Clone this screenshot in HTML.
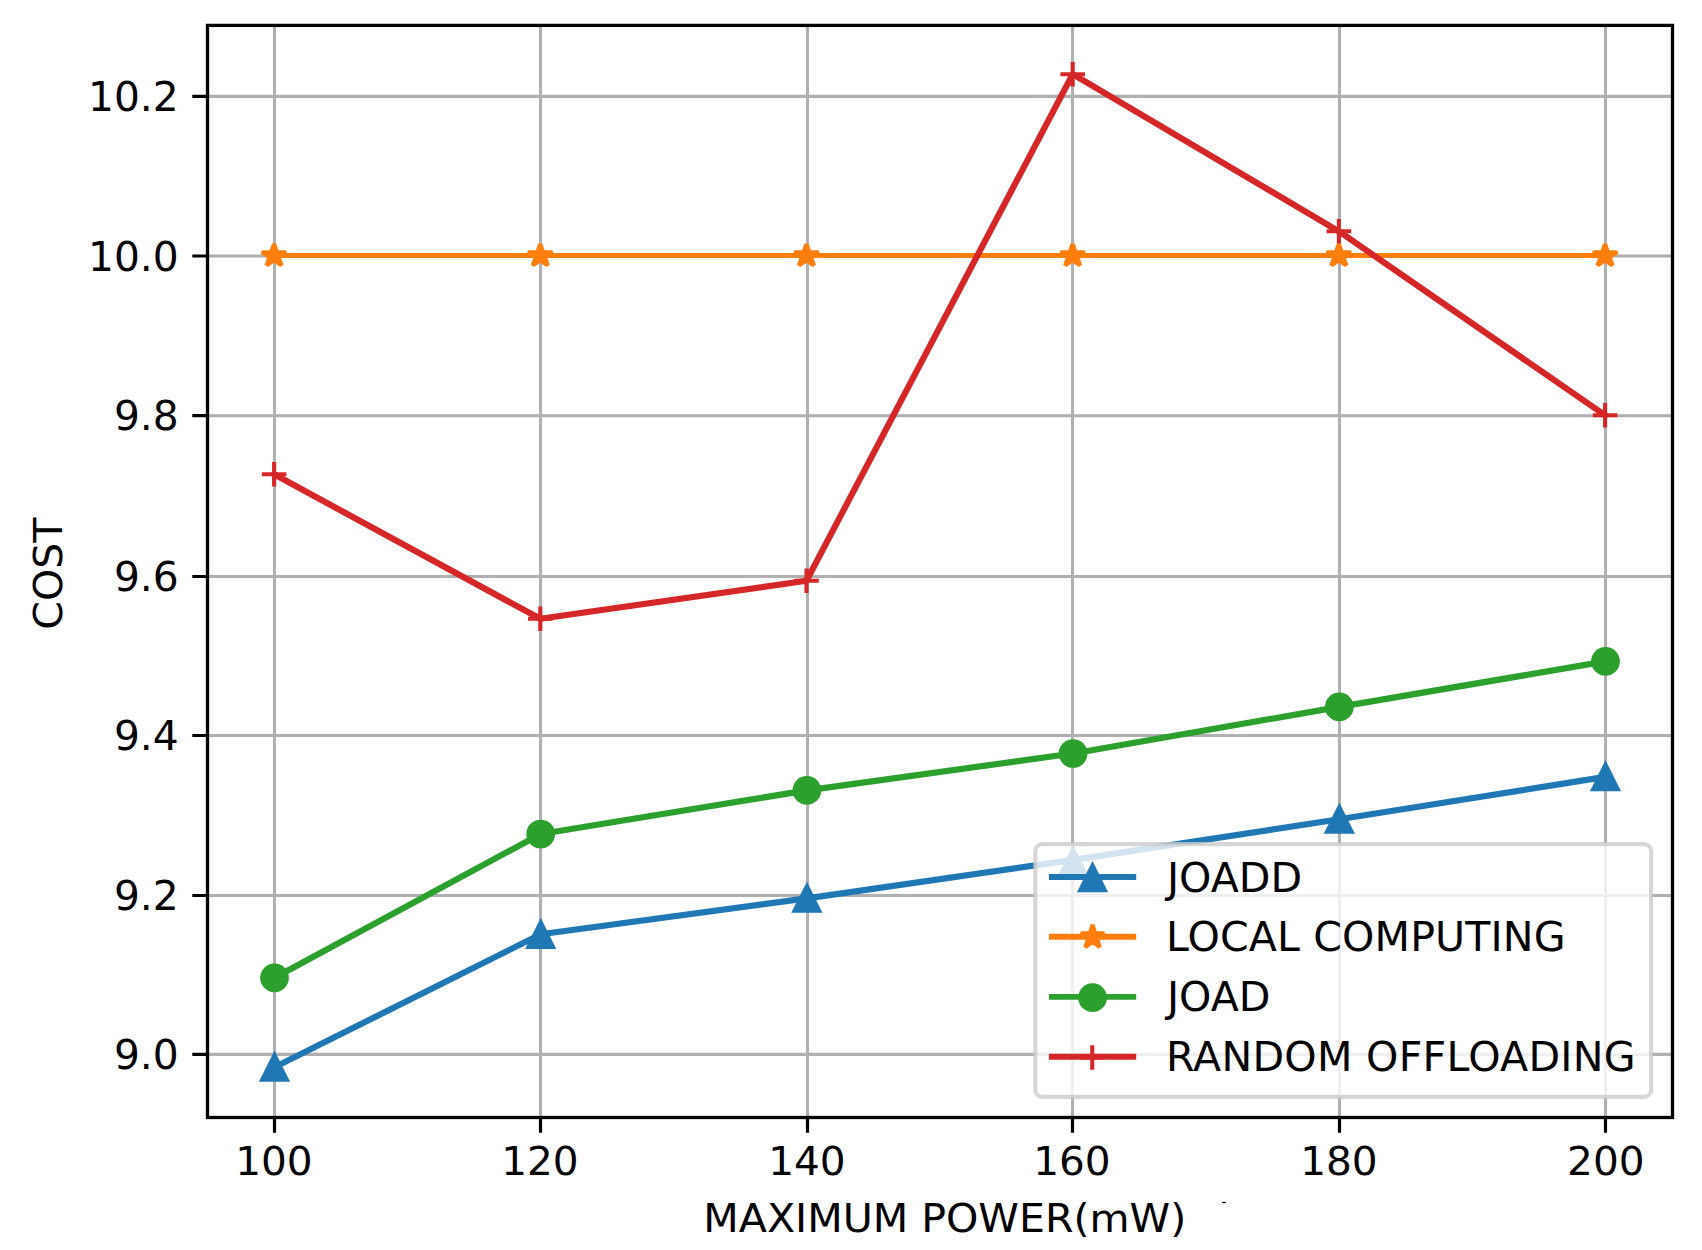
<!DOCTYPE html>
<html lang="en"><head><meta charset="utf-8"><title>COST vs MAXIMUM POWER(mW)</title>
<style>html,body{margin:0;padding:0;background:#fff}body{width:1702px;height:1250px;overflow:hidden}svg{display:block}</style>
</head><body>
<svg width="1702" height="1250" viewBox="0 0 1702 1250" font-family="'DejaVu Sans','Liberation Sans',sans-serif" font-size="41.1px" fill="#000">
<rect width="1702" height="1250" fill="#fff"/>
<path d="M274.50,25.4V1117.5M540.50,25.4V1117.5M807.50,25.4V1117.5M1072.50,25.4V1117.5M1339.50,25.4V1117.5M1605.50,25.4V1117.5M207.5,96.40H1672.5M207.5,256.00H1672.5M207.5,415.70H1672.5M207.5,576.50H1672.5M207.5,735.50H1672.5M207.5,895.50H1672.5M207.5,1054.40H1672.5" stroke="#b0b0b0" stroke-width="3.1" fill="none"/>
<g>
<polyline points="274.50,1067.20 540.70,934.30 806.90,898.40 1073.10,859.90 1339.30,819.30 1605.50,776.90" fill="none" stroke="#1f77b4" stroke-width="6.2" stroke-linejoin="round" stroke-linecap="square"/><polygon points="274.50,1055.20 262.20,1079.80 286.80,1079.80" fill="#1f77b4" stroke="#1f77b4" stroke-width="4.1" stroke-linejoin="miter"/><polygon points="540.70,922.40 528.40,947.00 553.00,947.00" fill="#1f77b4" stroke="#1f77b4" stroke-width="4.1" stroke-linejoin="miter"/><polygon points="806.90,886.15 794.60,910.75 819.20,910.75" fill="#1f77b4" stroke="#1f77b4" stroke-width="4.1" stroke-linejoin="miter"/><polygon points="1073.10,849.70 1060.80,874.30 1085.40,874.30" fill="#1f77b4" stroke="#1f77b4" stroke-width="4.1" stroke-linejoin="miter"/><polygon points="1339.30,807.20 1327.00,831.80 1351.60,831.80" fill="#1f77b4" stroke="#1f77b4" stroke-width="4.1" stroke-linejoin="miter"/><polygon points="1605.50,764.60 1593.20,789.20 1617.80,789.20" fill="#1f77b4" stroke="#1f77b4" stroke-width="4.1" stroke-linejoin="miter"/>
<polyline points="274.50,255.50 540.70,255.50 806.90,255.50 1073.10,255.50 1339.30,255.50 1605.50,255.50" fill="none" stroke="#ff7f0e" stroke-width="5.1" stroke-linejoin="round" stroke-linecap="square"/><polygon transform="translate(274.05 255.85) scale(1.035 0.958)" points="0.00,-12.30 -2.76,-3.80 -11.70,-3.80 -4.47,1.45 -7.23,9.95 -0.00,4.70 7.23,9.95 4.47,1.45 11.70,-3.80 2.76,-3.80" fill="#ff7f0e" stroke="#ff7f0e" stroke-width="4.1" stroke-linejoin="bevel"/><polygon transform="translate(540.25 255.85) scale(1.035 0.958)" points="0.00,-12.30 -2.76,-3.80 -11.70,-3.80 -4.47,1.45 -7.23,9.95 -0.00,4.70 7.23,9.95 4.47,1.45 11.70,-3.80 2.76,-3.80" fill="#ff7f0e" stroke="#ff7f0e" stroke-width="4.1" stroke-linejoin="bevel"/><polygon transform="translate(806.45 255.85) scale(1.035 0.958)" points="0.00,-12.30 -2.76,-3.80 -11.70,-3.80 -4.47,1.45 -7.23,9.95 -0.00,4.70 7.23,9.95 4.47,1.45 11.70,-3.80 2.76,-3.80" fill="#ff7f0e" stroke="#ff7f0e" stroke-width="4.1" stroke-linejoin="bevel"/><polygon transform="translate(1072.65 255.85) scale(1.035 0.958)" points="0.00,-12.30 -2.76,-3.80 -11.70,-3.80 -4.47,1.45 -7.23,9.95 -0.00,4.70 7.23,9.95 4.47,1.45 11.70,-3.80 2.76,-3.80" fill="#ff7f0e" stroke="#ff7f0e" stroke-width="4.1" stroke-linejoin="bevel"/><polygon transform="translate(1338.85 255.85) scale(1.035 0.958)" points="0.00,-12.30 -2.76,-3.80 -11.70,-3.80 -4.47,1.45 -7.23,9.95 -0.00,4.70 7.23,9.95 4.47,1.45 11.70,-3.80 2.76,-3.80" fill="#ff7f0e" stroke="#ff7f0e" stroke-width="4.1" stroke-linejoin="bevel"/><polygon transform="translate(1605.05 255.85) scale(1.035 0.958)" points="0.00,-12.30 -2.76,-3.80 -11.70,-3.80 -4.47,1.45 -7.23,9.95 -0.00,4.70 7.23,9.95 4.47,1.45 11.70,-3.80 2.76,-3.80" fill="#ff7f0e" stroke="#ff7f0e" stroke-width="4.1" stroke-linejoin="bevel"/>
<polyline points="274.50,977.85 540.70,834.00 806.90,790.40 1073.10,753.50 1339.30,706.90 1605.50,661.40" fill="none" stroke="#2ca02c" stroke-width="6.2" stroke-linejoin="round" stroke-linecap="square"/><circle cx="274.50" cy="977.85" r="14.35" fill="#2ca02c"/><circle cx="540.70" cy="834.00" r="14.35" fill="#2ca02c"/><circle cx="806.90" cy="790.40" r="14.35" fill="#2ca02c"/><circle cx="1073.10" cy="753.50" r="14.35" fill="#2ca02c"/><circle cx="1339.30" cy="706.90" r="14.35" fill="#2ca02c"/><circle cx="1605.50" cy="661.40" r="14.35" fill="#2ca02c"/>
<polyline points="274.10,474.30 540.30,618.80 806.50,580.70 1072.70,74.20 1338.90,231.30 1605.10,415.30" fill="none" stroke="#d62728" stroke-width="6.2" stroke-linejoin="round" stroke-linecap="square"/><path d="M261.80,474.30H286.40M274.10,462.00V486.60" stroke="#d62728" stroke-width="4.1" fill="none"/><path d="M528.00,618.80H552.60M540.30,606.50V631.10" stroke="#d62728" stroke-width="4.1" fill="none"/><path d="M794.20,580.70H818.80M806.50,568.40V593.00" stroke="#d62728" stroke-width="4.1" fill="none"/><path d="M1060.40,74.20H1085.00M1072.70,61.90V86.50" stroke="#d62728" stroke-width="4.1" fill="none"/><path d="M1326.60,231.30H1351.20M1338.90,219.00V243.60" stroke="#d62728" stroke-width="4.1" fill="none"/><path d="M1592.80,415.30H1617.40M1605.10,403.00V427.60" stroke="#d62728" stroke-width="4.1" fill="none"/>
</g>
<path d="M274.50,1117.5v15.2M540.50,1117.5v15.2M807.50,1117.5v15.2M1072.50,1117.5v15.2M1339.50,1117.5v15.2M1605.50,1117.5v15.2M207.5,96.40h-15.2M207.5,256.00h-15.2M207.5,415.70h-15.2M207.5,576.50h-15.2M207.5,735.50h-15.2M207.5,895.50h-15.2M207.5,1054.40h-15.2" stroke="#000" stroke-width="3.2" fill="none"/>
<rect x="207.5" y="25.4" width="1465.0" height="1092.1" fill="none" stroke="#000" stroke-width="3.3"/>
<text transform="translate(178.8 110.95) scale(0.993 1)" text-anchor="end">10.2</text>
<text transform="translate(178.8 270.55) scale(0.993 1)" text-anchor="end">10.0</text>
<text transform="translate(178.8 430.25) scale(0.993 1)" text-anchor="end">9.8</text>
<text transform="translate(178.8 591.05) scale(0.993 1)" text-anchor="end">9.6</text>
<text transform="translate(178.8 750.05) scale(0.993 1)" text-anchor="end">9.4</text>
<text transform="translate(178.8 910.05) scale(0.993 1)" text-anchor="end">9.2</text>
<text transform="translate(178.8 1068.95) scale(0.993 1)" text-anchor="end">9.0</text>
<text transform="translate(273.90 1175.1) scale(0.988 0.967)" text-anchor="middle">100</text>
<text transform="translate(539.90 1175.1) scale(0.988 0.967)" text-anchor="middle">120</text>
<text transform="translate(806.90 1175.1) scale(0.988 0.967)" text-anchor="middle">140</text>
<text transform="translate(1071.90 1175.1) scale(0.988 0.967)" text-anchor="middle">160</text>
<text transform="translate(1338.90 1175.1) scale(0.988 0.967)" text-anchor="middle">180</text>
<text transform="translate(1605.80 1175.1) scale(0.988 0.967)" text-anchor="middle">200</text>
<text transform="translate(944.8 1231.9) scale(1 0.968)" text-anchor="middle">MAXIMUM POWER(mW)</text>
<text transform="translate(62 573.7) rotate(-90) scale(1 0.967)" text-anchor="middle">COST</text>
<rect x="1035.3" y="844.1" width="615.80" height="252.80" rx="7" fill="#fff" fill-opacity="0.8" stroke="#ccc" stroke-opacity="0.8" stroke-width="4.1"/>
<path d="M1048.90,877.0H1136.20" stroke="#1f77b4" stroke-width="5.9" stroke-linecap="butt" fill="none" transform="translate(0 0)"/>
<polygon points="1092.55,865.50 1080.25,890.10 1104.85,890.10" fill="#1f77b4" stroke="#1f77b4" stroke-width="4.1" stroke-linejoin="miter"/>
<text x="1167.00" y="892.00">JOADD</text>
<path d="M1048.90,936.8H1136.20" stroke="#ff7f0e" stroke-width="5.9" stroke-linecap="butt" fill="none" transform="translate(0 0)"/>
<polygon transform="translate(1092.55 937.10) scale(1 1)" points="0.00,-12.30 -2.76,-3.80 -11.70,-3.80 -4.47,1.45 -7.23,9.95 -0.00,4.70 7.23,9.95 4.47,1.45 11.70,-3.80 2.76,-3.80" fill="#ff7f0e" stroke="#ff7f0e" stroke-width="4.1" stroke-linejoin="bevel"/>
<text x="1165.90" y="950.80" letter-spacing="0.14">LOCAL COMPUTING</text>
<path d="M1048.90,996.9H1136.20" stroke="#2ca02c" stroke-width="5.9" stroke-linecap="butt" fill="none" transform="translate(0 0)"/>
<circle cx="1092.55" cy="997.70" r="14.35" fill="#2ca02c"/>
<text x="1167.00" y="1010.90">JOAD</text>
<path d="M1048.90,1056.7H1136.20" stroke="#d62728" stroke-width="5.9" stroke-linecap="butt" fill="none" transform="translate(0 0)"/>
<path d="M1079.95,1057.50H1104.55M1092.25,1045.20V1069.80" stroke="#d62728" stroke-width="4.1" fill="none"/>
<text x="1165.90" y="1070.70" letter-spacing="0.27">RANDOM OFFLOADING</text>
<rect x="1222" y="1201.9" width="3.8" height="1.2" fill="#000"/>
</svg>
</body></html>
